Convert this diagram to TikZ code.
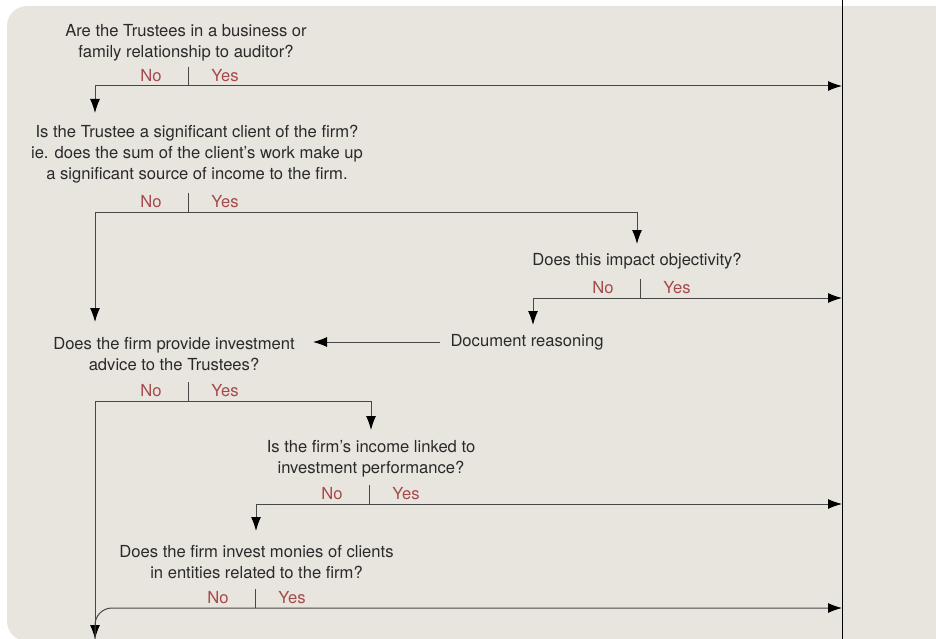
\documentclass[tikz,border=0pt]{standalone}
\usepackage{fontspec}
\setmainfont{TeX Gyre Heros}
\usetikzlibrary{arrows.meta}
\definecolor{paper}{HTML}{E8E5DF}
\definecolor{answercol}{HTML}{A6494B}
\definecolor{textcol}{HTML}{2A2A2A}
\begin{document}
\begin{tikzpicture}[x=1pt, y=-1pt,
    question/.style={align=center, inner sep=0pt, text=textcol,
      font=\fontsize{16.6}{21}\selectfont},
    answer/.style={inner sep=0pt, text=answercol,
      font=\fontsize{16.6}{21}\selectfont},
    line/.style={line width=1pt, draw=black!72},
    arr/.style={line, -{Latex[length=14pt, width=10pt, color=black]}}]
  \useasboundingbox (0,0) rectangle (936,639);
  \fill[paper, rounded corners=20pt] (7,6) rectangle (970,641);

  \node[question] (q1) at (186,43) {Are the Trustees in a business or\\family relationship to auditor?};
  \node[question] (q2) at (197,154.5) {Is the Trustee a significant client of the firm?\\ie. does the sum of the client’s work make up\\a significant source of income to the firm.};
  \node[question] (q3) at (637,261.5) {Does this impact objectivity?};
  \node[question] (doc) at (527,342.5) {Document reasoning};
  \node[question] (q4) at (174,354) {Does the firm provide investment\\advice to the Trustees?};
  \node[question] (q5) at (371,458.5) {Is the firm’s income linked to\\investment performance?};
  \node[question] (q6) at (256.5,562.5) {Does the firm invest monies of clients\\in entities related to the firm?};

  \foreach \n/\x/\y in {1/188/86, 2/188/212, 3/640/298, 4/188/401, 5/369/504, 6/255/608} {
    \coordinate (t\n) at (\x,\y);
    \coordinate (u\n) at (\x,\y-19);
    \draw[line] (u\n) -- (t\n);
    \node[answer] (no\n) at ([xshift=-37pt, yshift=10pt]t\n) {No};
    \node[answer] (yes\n) at ([xshift=37pt, yshift=10pt]t\n) {Yes};
  }

  \coordinate (top) at (842,0);
  \coordinate (bottom) at (842,639);

  \coordinate (l1) at (95,86);
  \coordinate (a1) at (95,113);
  \coordinate (l2) at (95,212);
  \coordinate (a2) at (95,322);
  \coordinate (m2) at (637,212);
  \coordinate (b2) at (637,244);
  \coordinate (l3) at (533,298);
  \coordinate (a3) at (533,325);
  \coordinate (d0) at (440,342);
  \coordinate (d1) at (313,342);
  \coordinate (l4) at (95,401);
  \coordinate (end) at (95,639);
  \coordinate (m4) at (371,401);
  \coordinate (b4) at (371,430);
  \coordinate (l5) at (256,504);
  \coordinate (a5) at (256,531);

  \draw[arr] (l1) -- (l1 -| top);
  \draw[arr] (l1) -- (a1);
  \draw[line] (l2) -- (m2);
  \draw[arr] (l2) -- (a2);
  \draw[arr] (m2) -- (b2);
  \draw[arr] (l3) -- (l3 -| top);
  \draw[arr] (l3) -- (a3);
  \draw[arr] (d0) -- (d1);
  \draw[line] (l4) -- (m4);
  \draw[arr] (l4) -- (end);
  \draw[arr] (m4) -- (b4);
  \draw[arr] (l5) -- (l5 -| top);
  \draw[arr] (l5) -- (a5);
  \draw[arr, rounded corners=17pt] (end) |- (t6 -| top);

  \draw[line width=1pt] (top) -- (bottom);
\end{tikzpicture}
\end{document}
